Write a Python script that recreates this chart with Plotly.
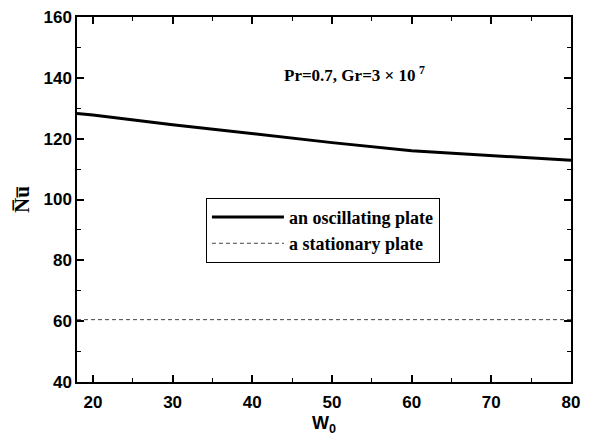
import plotly.graph_objects as go

w0 = [18, 20, 30, 40, 50, 60, 70, 80]
nu_osc = [128.3, 127.8, 124.6, 121.6, 118.7, 116.0, 114.5, 112.9]
nu_sta = [60.5, 60.5, 60.5, 60.5, 60.5, 60.5, 60.5, 60.5]

x_ticks = [20, 30, 40, 50, 60, 70, 80]
y_ticks = [40, 60, 80, 100, 120, 140, 160]

fig = go.Figure()
fig.add_trace(go.Scatter(x=w0, y=nu_osc, mode="lines", name="an oscillating plate",
                         line=dict(color="black", width=3)))
fig.add_trace(go.Scatter(x=w0, y=nu_sta, mode="lines", name="a stationary plate",
                         line=dict(color="#444444", width=1, dash="4px,3px")))

axis_common = dict(
    showline=True, linecolor="black", linewidth=1.5, mirror="ticks",
    ticks="inside", ticklen=7, tickwidth=1.5, tickcolor="black",
    showgrid=False, zeroline=False, automargin=False,
    tickfont=dict(family="Liberation Sans, Arial", size=17, color="black", weight="bold"),
)

fig.update_xaxes(range=[18, 80], tickvals=x_ticks, ticktext=[str(v) for v in x_ticks],
                 ticklabelstandoff=4,
                 minor=dict(ticks="inside", ticklen=4, tickwidth=1.2, tickcolor="black", dtick=5, tick0=0),
                 title=dict(text="W<sub>0</sub>", standoff=8,
                            font=dict(family="Liberation Sans, Arial", size=18, color="black", weight="bold")),
                 **axis_common)
fig.update_yaxes(range=[40, 160], tickvals=y_ticks, ticktext=[str(v) for v in y_ticks],
                 minor=dict(ticks="inside", ticklen=4, tickwidth=1.2, tickcolor="black", dtick=10, tick0=0),
                 title=dict(text="N\u0305u\u0305", standoff=8,
                            font=dict(family="Liberation Serif, Times New Roman", size=21, color="black", weight="bold")),
                 **axis_common)

fig.add_annotation(x=0.562, y=0.843, xref="paper", yref="paper", xanchor="center", yanchor="middle",
                   text="Pr=0.7, Gr=3\u00a0\u00d7\u00a010\u2009<sup>7</sup>", showarrow=False,
                   font=dict(family="Liberation Serif, Times New Roman", size=17, color="black", weight="bold"))

fig.update_layout(
    width=594, height=436,
    margin=dict(l=77, r=23, t=17, b=54),
    paper_bgcolor="white", plot_bgcolor="white",
    showlegend=True,
    legend=dict(x=0.261, y=0.505, xanchor="left", yanchor="top",
                bordercolor="black", borderwidth=1, bgcolor="white",
                itemwidth=72, tracegroupgap=0,
                font=dict(family="Liberation Serif, Times New Roman", size=18, color="black", weight="bold")),
)

fig.write_html("out.html")
